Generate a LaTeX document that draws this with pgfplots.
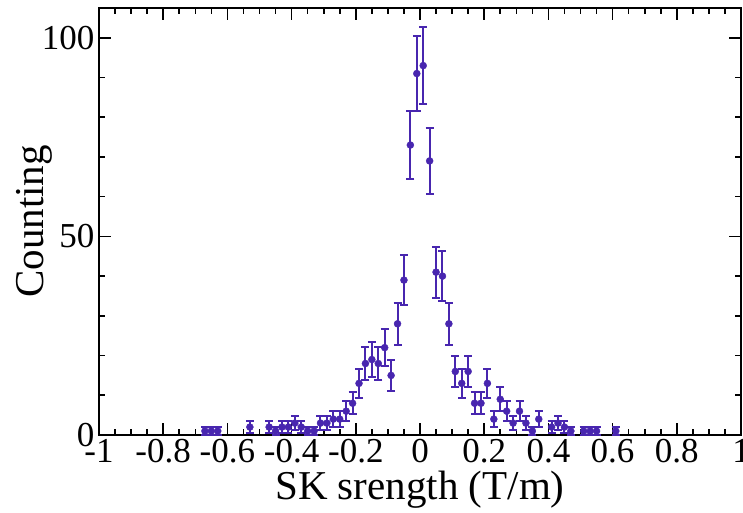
\documentclass[border=0pt]{standalone}
\usepackage{pgfplots}
\pgfplotsset{compat=1.18}
\usepackage{fontspec}
\setmainfont{Liberation Serif}
\definecolor{indig}{RGB}{72,38,175}
\begin{document}
\begin{tikzpicture}
\begin{axis}[
  at={(0,0)}, anchor=south west,
  scale only axis, width=642pt, height=427pt,
  xmin=-1, xmax=1, ymin=0, ymax=107.5,
  xtick={-1,-0.8,-0.6,-0.4,-0.2,0,0.2,0.4,0.6,0.8,1},
  xticklabels={{-1},{-0.8},{-0.6},{-0.4},{-0.2},{0},{0.2},{0.4},{0.6},{0.8},{1}},
  ytick={0,50,100},
  yticklabels={{0},{50},{100}},
  minor x tick num=3,
  minor y tick num=4,
  tick align=inside,
  major tick length=12pt, minor tick length=6pt,
  axis line style={line width=1.6pt},
  every tick/.style={black, line width=1.6pt},
  ticklabel style={font=\fontsize{35}{36}\selectfont},
  xticklabel style={yshift=-1pt},
  yticklabel style={xshift=-1pt},
  xlabel={SK srength (T/m)},
  ylabel={Counting},
  label style={font=\fontsize{41}{41}\selectfont},
  xlabel style={yshift=-1pt},
  ylabel style={yshift=-17pt},
  clip=false,
]
\addplot+[only marks, mark=*, color=indig, mark options={fill=indig, draw=indig}, mark size=3.5pt,
  error bars/.cd, y dir=both, y explicit,
  error bar style={line width=2pt, color=indig},
  error mark options={rotate=90, mark size=4pt, line width=2pt, color=indig}]
table[x=x, y=y, y error=e] {
x y e
-0.67 1 1
-0.65 1 1
-0.63 1 1
-0.53 2 1.41
-0.47 2 1.41
-0.45 1 1
-0.43 2 1.41
-0.41 2 1.41
-0.39 3 1.73
-0.37 2 1.41
-0.35 1 1
-0.33 1 1
-0.31 3 1.73
-0.29 3 1.73
-0.27 4 2
-0.25 4 2
-0.23 6 2.45
-0.21 8 2.83
-0.19 13 3.61
-0.17 18 4.24
-0.15 19 4.36
-0.13 18 4.24
-0.11 22 4.69
-0.09 15 3.87
-0.07 28 5.29
-0.05 39 6.24
-0.03 73 8.54
-0.01 91 9.54
0.01 93 9.64
0.03 69 8.31
0.05 41 6.40
0.07 40 6.32
0.09 28 5.29
0.11 16 4
0.13 13 3.61
0.15 16 4
0.17 8 2.83
0.19 8 2.83
0.21 13 3.61
0.23 4 2
0.25 9 3
0.27 6 2.45
0.29 3 1.73
0.31 6 2.45
0.33 3 1.73
0.35 1 1
0.37 4 2
0.41 2 1.41
0.43 3 1.73
0.45 2 1.41
0.47 1 1
0.51 1 1
0.53 1 1
0.55 1 1
0.61 1 1
};
\end{axis}
\pgfresetboundingbox
\path (-99pt,-77pt) rectangle (644pt,435pt);
\end{tikzpicture}
\end{document}
